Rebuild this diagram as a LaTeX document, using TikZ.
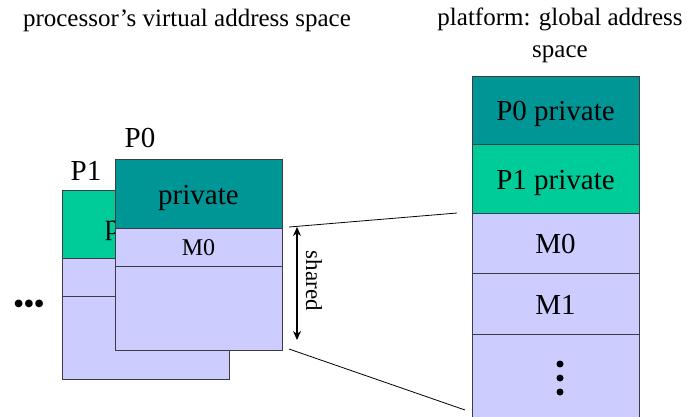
\documentclass[tikz,border=0pt]{standalone}
\usepackage{fontspec}
\setmainfont{Liberation Serif}
\usetikzlibrary{arrows.meta}
\definecolor{teal0}{RGB}{0,150,150}
\definecolor{green1}{RGB}{0,204,153}
\definecolor{lav}{RGB}{204,204,255}
\definecolor{edge}{RGB}{60,60,70}
\begin{document}
\begin{tikzpicture}[x=1pt,y=-1pt,
  cell/.style={draw=edge,line width=0.8pt,inner sep=0pt,minimum width=167pt,anchor=center,text height=21pt,text depth=0pt,font=\fontsize{29}{32}\selectfont},
  smallcell/.style={cell,text height=17pt,font=\fontsize{24}{26}\selectfont},
  lbl/.style={inner sep=0pt,font=\fontsize{29}{32}\selectfont},
  title/.style={inner sep=0pt,align=center,font=\fontsize{25}{32}\selectfont},
  dot/.style={fill=black,circle,inner sep=0pt,minimum size=7pt}]
\clip (0,0) rectangle (687,416);
\fill[white] (0,0) rectangle (687,416);
% titles
\node[title] (t1) at (187,20) {processor’s virtual address space};
\node[title,anchor=north] (t2) at (560,8) {platform: global address\\space};
% P1 stack
\node[cell,fill=green1,minimum height=68pt] (p1priv) at (145.5,224) {private};
\node[cell,fill=lav,minimum height=38pt] (p1m) at (145.5,277) {};
\node[cell,fill=lav,minimum height=83pt] (p1rest) at (145.5,337.5) {};
\node[lbl] (p1lbl) at (86,171) {P1};
% P0 stack
\node[cell,fill=teal0,minimum height=69pt] (p0priv) at (198.5,193.5) {private};
\node[smallcell,fill=lav,minimum height=38pt] (p0m0) at (198.5,247) {M0};
\node[cell,fill=lav,minimum height=84pt] (p0rest) at (198.5,308) {};
\node[lbl] (p0lbl) at (140,138) {P0};
% dots
\node[inner sep=0pt,font=\fontsize{32}{32}\selectfont] (hdots) at (29,307) {•\kern-1pt•\kern-1pt•};
% global column
\node[cell,fill=teal0,minimum height=68pt] (g0) at (555.5,110) {P0 private};
\node[cell,fill=green1,minimum height=69pt] (g1) at (555.5,178.5) {P1 private};
\node[cell,fill=lav,minimum height=60pt] (gm0) at (555.5,243) {M0};
\node[cell,fill=lav,minimum height=61pt] (gm1) at (555.5,303.5) {M1};
\node[cell,fill=lav,minimum height=86pt] (grest) at (555.5,377) {};
\node[dot] (vd1) at (560,364) {};
\node[dot] (vd2) at (560,378) {};
\node[dot] (vd3) at (560,392) {};
% shared arrow
\coordinate (a1) at (297,227);
\coordinate (a2) at (297,340);
\draw[line width=1.3pt,{Stealth[length=9pt,width=8pt]}-{Stealth[length=9pt,width=8pt]}] (a1) -- (a2);
\node[inner sep=0pt,rotate=-90,font=\fontsize{23}{26}\selectfont] (shared) at (314,281) {shared};
% mapping lines
\coordinate (l1a) at (289,227);
\coordinate (l1b) at (457,213);
\coordinate (l2a) at (289,349);
\coordinate (l2b) at (465,410);
\draw[line width=0.8pt] (l1a) -- (l1b);
\draw[line width=0.8pt] (l2a) -- (l2b);
\end{tikzpicture}
\end{document}
